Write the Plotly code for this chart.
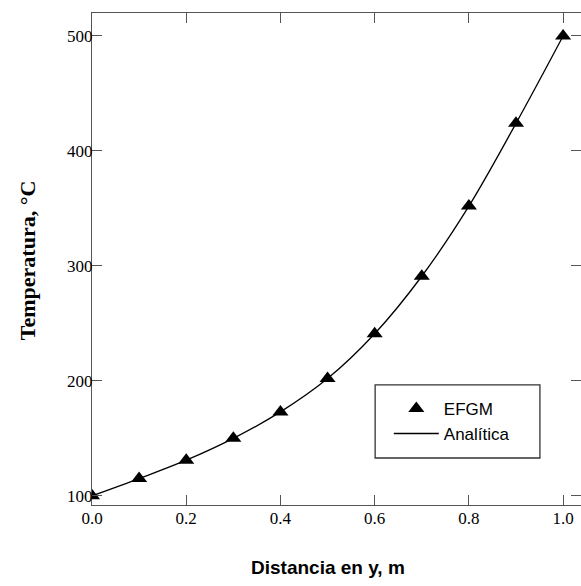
import plotly.graph_objects as go

# Data
distance_y = [0.0, 0.1, 0.2, 0.3, 0.4, 0.5, 0.6, 0.7, 0.8, 0.9, 1.0]
temp_efgm = [100, 115, 131, 150, 173, 202, 241, 291, 352, 424, 500]
temp_analytic = [100, 115, 131, 150, 173, 202, 241, 291, 352, 424, 500]

x_ticks = [0.0, 0.2, 0.4, 0.6, 0.8, 1.0]
x_tick_labels = ["0.0", "0.2", "0.4", "0.6", "0.8", "1.0"]
y_ticks = [100, 200, 300, 400, 500]
y_tick_labels = ["100", "200", "300", "400", "500"]

serif = "Liberation Serif, Times New Roman, serif"
sans = "Liberation Sans, Arial, sans-serif"

fig = go.Figure()
fig.add_trace(go.Scatter(
    x=distance_y, y=temp_analytic, mode="lines", name="Analítica",
    line=dict(color="black", width=1.3, shape="spline"),
))
fig.add_trace(go.Scatter(
    x=distance_y, y=temp_efgm, mode="markers", name="EFGM",
    marker=dict(symbol="triangle-up", size=14, color="black"),
))

axis_common = dict(
    showgrid=False, zeroline=False, showline=True, linecolor="#555555", linewidth=1.3,
    mirror="ticks", ticks="inside", ticklen=10, tickcolor="#555555", tickwidth=1.3,
    tickfont=dict(family=serif, size=17, color="black"),
)

fig.update_layout(
    width=581, height=586,
    margin=dict(l=92, r=0, t=13, b=81),
    plot_bgcolor="white", paper_bgcolor="white",
    xaxis=dict(range=[0, 1.038], tickvals=x_ticks, ticktext=x_tick_labels,
               ticklabelstandoff=-3, **axis_common),
    yaxis=dict(range=[92, 520], tickvals=y_ticks, ticktext=y_tick_labels,
               ticklabelstandoff=-5, **axis_common),
    legend=dict(
        x=0.607, y=0.232, xanchor="left", yanchor="top",
        traceorder="reversed",
        borderwidth=0, bgcolor="rgba(0,0,0,0)",
        font=dict(family=sans, size=17, color="black"),
        itemwidth=45, tracegroupgap=0,
    ),
    showlegend=True,
    shapes=[
        dict(type="rect", xref="paper", yref="paper",
             x0=0.579, x1=0.916, y0=0.0955, y1=0.244,
             line=dict(color="#333333", width=1.3), fillcolor="rgba(0,0,0,0)",
             layer="above"),
    ],
    annotations=[
        dict(text="<b>Distancia en y, m</b>", xref="x", yref="paper", x=0.5, y=0,
             yshift=-62, yanchor="middle", showarrow=False,
             font=dict(family=sans, size=19, color="black")),
        dict(text="<b>Temperatura, °C</b>", xref="paper", yref="y", x=0, y=305,
             xshift=-65, textangle=-90, xanchor="center", showarrow=False,
             font=dict(family=serif, size=22, color="black")),
    ],
)

fig.write_html("out.html", config={"displayModeBar": False},
               post_script="document.body.style.margin='0';")
